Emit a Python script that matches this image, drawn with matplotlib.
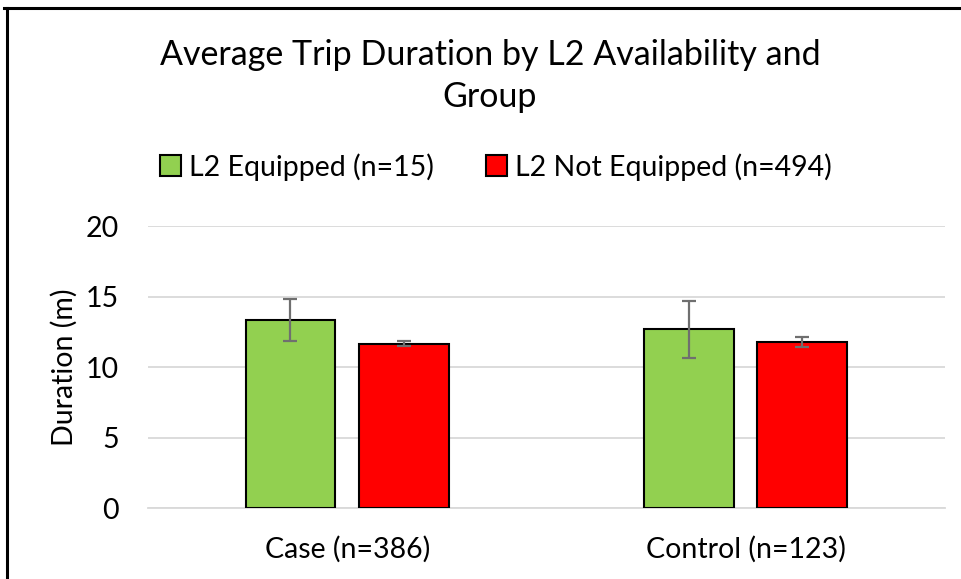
import matplotlib.pyplot as plt
from matplotlib.lines import Line2D
import numpy as np

plt.rcParams['font.family'] = ['Lato', 'DejaVu Sans']

groups = ['Case (n=386)', 'Control (n=123)']
series = ['L2 Equipped (n=15)', 'L2 Not Equipped (n=494)']
equipped = [13.35, 12.70]
equipped_err = [1.47, 2.02]
not_equipped = [11.66, 11.81]
not_equipped_err = [0.18, 0.34]
colors = ['#92D050', '#FF0000']

fig = plt.figure(figsize=(9.61, 5.79), dpi=100)
ax = fig.add_axes([0.154, 0.1226, 0.829, 0.4864])

x = np.arange(len(groups))
w = 0.225
off = 0.1425
err_kw = dict(ecolor='#6f6f6f', elinewidth=1.6, capsize=5, capthick=1.6)
ax.bar(x - off, equipped, w, yerr=equipped_err, color=colors[0], edgecolor='black',
       linewidth=1.5, label=series[0], error_kw=err_kw, zorder=3)
ax.bar(x + off, not_equipped, w, yerr=not_equipped_err, color=colors[1], edgecolor='black',
       linewidth=1.5, label=series[1], error_kw=err_kw, zorder=3)

ax.set_xlim(-0.5, 1.5)
ax.set_ylim(0, 20)
ax.set_yticks([0, 5, 10, 15, 20])
ax.set_xticks(x)
ax.set_xticklabels(groups)
ax.tick_params(axis='both', length=0, labelsize=20.5, colors='black')
ax.tick_params(axis='x', pad=20)
ax.tick_params(axis='y', pad=21)
ax.grid(axis='y', color='#d9d9d9', linewidth=1.3, zorder=0)
for s in ['top', 'right', 'left']:
    ax.spines[s].set_visible(False)
ax.spines['bottom'].set_color('#d9d9d9')
ax.spines['bottom'].set_linewidth(1.3)
ax.set_ylabel('Duration (m)', fontsize=20.5)
ax.yaxis.set_label_coords(-0.088, 0.5)

fig.text(0.51, 0.869, 'Average Trip Duration by L2 Availability and\nGroup',
         ha='center', va='center', fontsize=24.5, linespacing=1.4)
fig.legend(loc='center', bbox_to_anchor=(0.516, 0.712), ncol=2, frameon=False,
           fontsize=20.5, handlelength=0.75, handleheight=0.75, handletextpad=0.3,
           columnspacing=1.8)

# outer frame (top and left edges visible)
fig.add_artist(Line2D([0.004, 1.0], [0.986, 0.986], color='black', linewidth=2.2,
                      transform=fig.transFigure))
fig.add_artist(Line2D([0.0068, 0.0068], [0.0, 0.986], color='black', linewidth=2.2,
                      transform=fig.transFigure))

fig.savefig('out.png', dpi=100)
